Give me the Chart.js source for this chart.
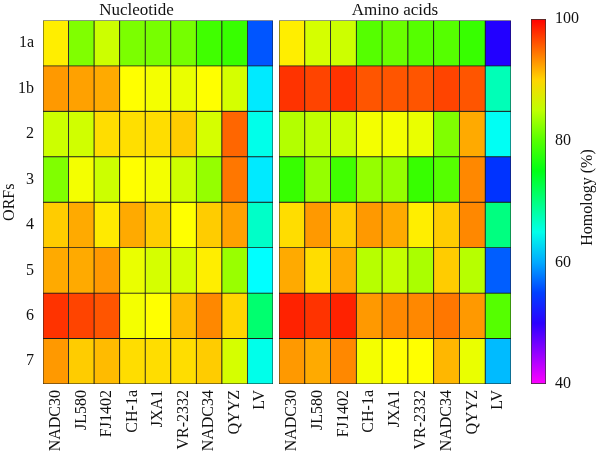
<!DOCTYPE html>
<html>
<head>
<meta charset="utf-8">
<script src="https://cdn.jsdelivr.net/npm/chart.js@4.4.1/dist/chart.umd.min.js"></script>
<style>
  body { margin: 0; background: #fff; }
  #wrap { position: relative; width: 600px; height: 455px; }
  canvas { position: absolute; top: 0; }
  #left { left: 0; }
  #right { left: 276px; }
  #bar { left: 512px; }
</style>
</head>
<body>
<div id="wrap">
  <canvas id="left" width="276" height="455"></canvas>
  <canvas id="right" width="236" height="455"></canvas>
  <canvas id="bar" width="88" height="455"></canvas>
</div>
<script>
// 数据
const strains = ['NADC30', 'JL580', 'FJ1402', 'CH-1a', 'JXA1', 'VR-2332', 'NADC34', 'QYYZ', 'LV'];
const orfs = ['1a', '1b', '2', '3', '4', '5', '6', '7'];
const cbTicks = [40, 60, 80, 100];

// 核苷酸同源性 (%)，每行一个 ORF
const ntValues = [
  [88.8, 82.0, 85.6, 81.8, 81.6, 81.5, 79.0, 78.6, 56.0],
  [92.8, 92.4, 92.0, 88.0, 87.5, 87.0, 88.0, 86.0, 63.0],
  [85.6, 85.8, 89.6, 89.5, 89.6, 90.4, 86.0, 95.2, 65.0],
  [82.0, 87.5, 85.6, 88.0, 87.5, 85.6, 83.0, 94.4, 63.0],
  [90.4, 92.0, 89.0, 92.0, 90.4, 88.0, 90.4, 92.4, 66.6],
  [92.0, 92.0, 92.8, 87.0, 86.0, 86.0, 88.8, 83.2, 64.0],
  [97.6, 96.8, 96.0, 87.5, 88.0, 91.2, 93.6, 90.0, 70.8],
  [92.8, 90.4, 91.2, 89.6, 89.6, 89.6, 90.4, 86.0, 65.0]
];

// 氨基酸同源性 (%)
const aaValues = [
  [88.8, 86.0, 85.6, 80.0, 81.0, 80.0, 80.0, 78.6, 50.4],
  [97.6, 96.8, 97.6, 96.0, 96.0, 96.0, 96.8, 96.0, 67.4],
  [84.4, 85.0, 85.6, 87.5, 87.5, 87.0, 82.0, 92.0, 64.5],
  [78.6, 83.0, 79.0, 83.0, 83.0, 78.6, 80.0, 93.6, 54.4],
  [89.6, 92.8, 90.4, 92.8, 92.0, 88.8, 90.4, 93.6, 70.0],
  [92.0, 89.6, 92.0, 84.6, 85.2, 84.0, 90.4, 84.6, 56.4],
  [98.4, 97.6, 98.4, 92.8, 93.6, 93.6, 94.4, 92.8, 80.0],
  [92.8, 92.0, 93.6, 87.5, 88.0, 88.0, 91.4, 87.0, 60.8]
];

const FONT = { family: '"Liberation Serif", "DejaVu Serif", serif', size: 16 };
const TEXT = '#111';
Chart.defaults.font = { ...FONT };
Chart.defaults.color = TEXT;

// 40 -> 品红, 100 -> 红 (HSV 色相)
function valueColor(v) {
  const t = Math.max(40, Math.min(100, v));
  return `hsl(${(100 - t) * 5}, 100%, 50%)`;
}

function heatmap(canvasId, title, values, showRows) {
  const n = orfs.length;
  const datasets = values.map((row, i) => ({
    label: orfs[i],
    data: row.map(() => [n - i - 1, n - i]),
    backgroundColor: row.map(valueColor),
    borderColor: '#1c1c1c',
    borderWidth: 0.8,
    borderSkipped: false,
    barPercentage: 1,
    categoryPercentage: 1,
    grouped: false
  }));

  const yAxis = {
    display: showRows,
    min: 0,
    max: n,
    grid: { display: false, drawTicks: false },
    border: { display: false },
    afterBuildTicks: (axis) => {
      axis.ticks = orfs.map((_, i) => ({ value: n - i - 0.5 }));
    },
    ticks: {
      padding: 9,
      color: TEXT,
      callback: (v) => orfs[Math.round(n - 0.5 - v)]
    },
    title: { display: true, text: 'ORFs', color: TEXT, font: { ...FONT }, padding: 0 }
  };
  if (showRows) yAxis.afterFit = (axis) => { axis.width = 43; };

  return new Chart(document.getElementById(canvasId), {
    type: 'bar',
    data: { labels: strains, datasets },
    options: {
      responsive: false,
      animation: false,
      events: [],
      layout: { padding: { left: showRows ? 0 : 3, right: showRows ? 3 : 1, top: 0, bottom: 0 } },
      plugins: {
        legend: { display: false },
        tooltip: { enabled: false },
        title: {
          display: true,
          text: title,
          color: TEXT,
          font: { ...FONT, size: 17, weight: 'normal' },
          padding: { top: 0, bottom: 0 }
        }
      },
      scales: {
        x: {
          grid: { display: false, drawTicks: false },
          border: { display: false },
          ticks: { autoSkip: false, maxRotation: 90, minRotation: 90, padding: 6, color: TEXT },
          afterFit: (axis) => {
            axis.height = 71;
            axis.paddingLeft = 0;
            axis.paddingRight = 0;
          }
        },
        y: yAxis
      }
    }
  });
}

heatmap('left', 'Nucleotide', ntValues, true);
heatmap('right', 'Amino acids', aaValues, false);

// 色条
const cbTitle = {
  id: 'cbTitle',
  afterDraw(chart) {
    const { ctx, chartArea } = chart;
    ctx.save();
    ctx.fillStyle = TEXT;
    ctx.font = `16px ${FONT.family}`;
    ctx.textAlign = 'center';
    ctx.textBaseline = 'middle';
    ctx.translate(76, (chartArea.top + chartArea.bottom) / 2 - 4);
    ctx.rotate(-Math.PI / 2);
    ctx.fillText('Homology (%)', 0, 0);
    ctx.restore();
  }
};

new Chart(document.getElementById('bar'), {
  type: 'bar',
  data: {
    labels: [''],
    datasets: [{
      data: [[cbTicks[0], cbTicks[cbTicks.length - 1]]],
      backgroundColor: (c) => {
        const area = c.chart.chartArea;
        if (!area) return '#fff';
        const g = c.chart.ctx.createLinearGradient(0, area.bottom, 0, area.top);
        for (let v = 40; v <= 100; v += 5) g.addColorStop((v - 40) / 60, valueColor(v));
        return g;
      },
      borderColor: '#333',
      borderWidth: 1,
      borderSkipped: false,
      barPercentage: 1,
      categoryPercentage: 1
    }]
  },
  options: {
    responsive: false,
    animation: false,
    events: [],
    layout: { padding: { left: 19, right: 0, top: 19, bottom: 71 } },
    plugins: { legend: { display: false }, tooltip: { enabled: false } },
    scales: {
      x: { display: false },
      y: {
        position: 'right',
        min: 40,
        max: 100,
        grid: { display: false, drawTicks: false },
        border: { display: false },
        afterBuildTicks: (axis) => { axis.ticks = cbTicks.map(v => ({ value: v })); },
        ticks: { padding: 9, color: TEXT },
        afterFit: (axis) => { axis.width = 54; }
      }
    }
  },
  plugins: [cbTitle]
});
</script>
</body>
</html>
